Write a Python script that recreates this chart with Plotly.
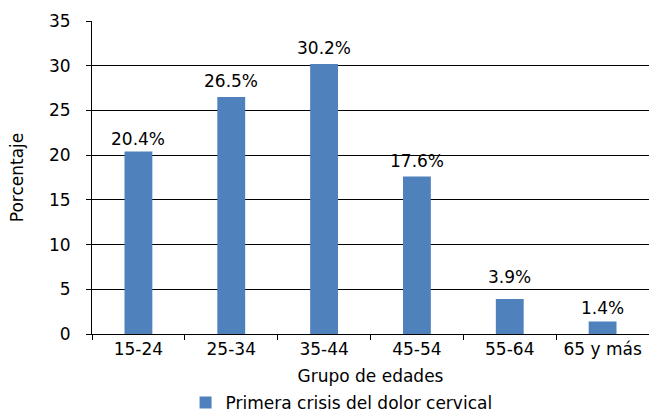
import plotly.graph_objects as go

categorias = ["15-24", "25-34", "35-44", "45-54", "55-64", "65 y más"]
porcentajes = [20.4, 26.5, 30.2, 17.6, 3.9, 1.4]
serie = "Primera crisis del dolor cervical"
y_ticks = [0, 5, 10, 15, 20, 25, 30, 35]

fuente = "DejaVu Sans, Liberation Sans, Arial, sans-serif"
# separación (px) entre el extremo de cada barra y su etiqueta
separacion_etiquetas = [1, 4, 4, 4, 10, 1]

fig = go.Figure(
    go.Bar(
        x=categorias,
        y=porcentajes,
        name=serie,
        marker=dict(color="#4F81BD", line=dict(width=0)),
        width=0.3,
        showlegend=True,
    )
)

for cat, val, sep in zip(categorias, porcentajes, separacion_etiquetas):
    fig.add_annotation(
        x=cat,
        y=val,
        text=f"{val:.1f}%",
        showarrow=False,
        yanchor="bottom",
        yshift=sep,
        font=dict(family=fuente, size=17, color="#000000"),
    )

fig.update_layout(
    width=649,
    height=414,
    margin=dict(l=92, r=0, t=21, b=80, autoexpand=False),
    paper_bgcolor="white",
    plot_bgcolor="white",
    font=dict(family=fuente, size=17, color="#000000"),
    showlegend=True,
    legend=dict(
        orientation="h",
        x=0.168,
        xanchor="left",
        y=-0.22,
        yanchor="middle",
        font=dict(family=fuente, size=17),
        itemwidth=30,
    ),
    xaxis=dict(
        title=dict(text="Grupo de edades", font=dict(size=17), standoff=11),
        showline=True,
        linecolor="#000000",
        linewidth=1,
        ticks="outside",
        tickson="boundaries",
        ticklen=5,
        tickcolor="#000000",
        showgrid=False,
        tickfont=dict(size=17),
        automargin=False,
    ),
    yaxis=dict(
        title=dict(text="Porcentaje", font=dict(size=17), standoff=21),
        range=[0, 35],
        tickvals=y_ticks,
        showline=True,
        linecolor="#000000",
        linewidth=1,
        ticks="outside",
        ticklen=5,
        tickcolor="#000000",
        ticklabelstandoff=12,
        showgrid=True,
        gridcolor="#000000",
        gridwidth=1,
        zeroline=False,
        tickfont=dict(size=17),
        automargin=False,
    ),
)

fig.write_html("out.html")
